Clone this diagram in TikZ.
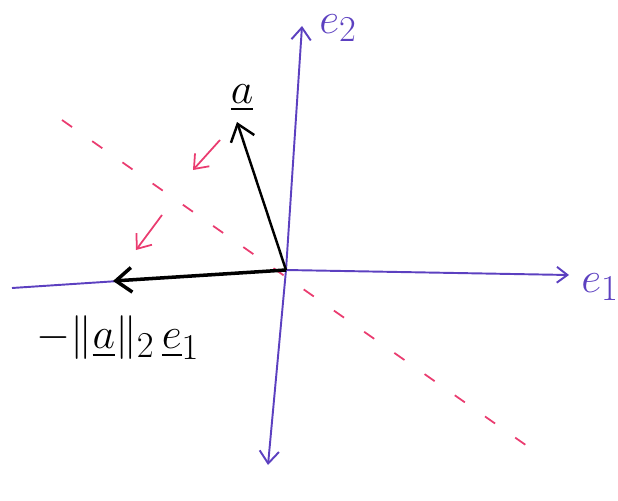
\documentclass[tikz,border=0pt]{standalone}
\usepackage{amsmath,amssymb}
\usepackage{xcolor}
\usepackage{tikz}
\usetikzlibrary{arrows.meta,positioning}
\definecolor{AxisBlue}{RGB}{92, 64, 192}
\definecolor{MirrorPink}{RGB}{234, 60, 112}
\tikzset{
  axisline/.style={AxisBlue, line width=1.1pt},
  vecline/.style={black, line width=1.4pt, -{Straight Barb[length=9pt,width=14pt]}},
  mirrorline/.style={MirrorPink, line width=1pt, dash pattern=on 7pt off 14pt},
  foldarrow/.style={MirrorPink, line width=1pt, -{Straight Barb[length=7pt,width=11pt]}},
  handlabel/.style={font=\Huge},
}

\begin{document}
\begin{tikzpicture}[x=0.02cm, y=-0.02cm]
    \useasboundingbox (0,0) rectangle (618,500);
    % axes
    \coordinate (O) at (286,270);
    \coordinate (e1tail) at (12,288);
    \coordinate (e1tip) at (569,275);
    \coordinate (e2tip) at (302,26);
    \coordinate (e2tail) at (268,465);
    \draw[axisline, -{Straight Barb[length=6pt,width=9pt]}] (e1tail) -- (O) -- (e1tip);
    \draw[axisline, {Straight Barb[length=7pt,width=11pt]}-{Straight Barb[length=7pt,width=11pt]}] (e2tail) -- (O) -- (e2tip);
    \node[handlabel, AxisBlue] (e1lab) at (600,287) {$e_1$};
    \node[handlabel, AxisBlue] (e2lab) at (338,28) {$e_2$};
    % mirror line
    \coordinate (mstart) at (62,120);
    \coordinate (mend) at (530,448);
    \draw[mirrorline] (mstart) -- (mend);
    \coordinate (f1s) at (220,140);
    \coordinate (f1e) at (193,170);
    \coordinate (f2s) at (162,215);
    \coordinate (f2e) at (136,250);
    \draw[foldarrow] (f1s) -- (f1e);
    \draw[foldarrow] (f2s) -- (f2e);
    % vector and its image
    \coordinate (atip) at (237,122);
    \coordinate (htip) at (113,281);
    \draw[vecline] (O) -- (atip);
    \draw[vecline, line width=2pt] (O) -- (htip);
    \node[handlabel] (alab) at (242,98) {$\underline{a}$};
    \node[handlabel] (hlab) at (118,338) {$-\|\underline{a}\|_2\,\underline{e}_1$};
\end{tikzpicture}
\end{document}
